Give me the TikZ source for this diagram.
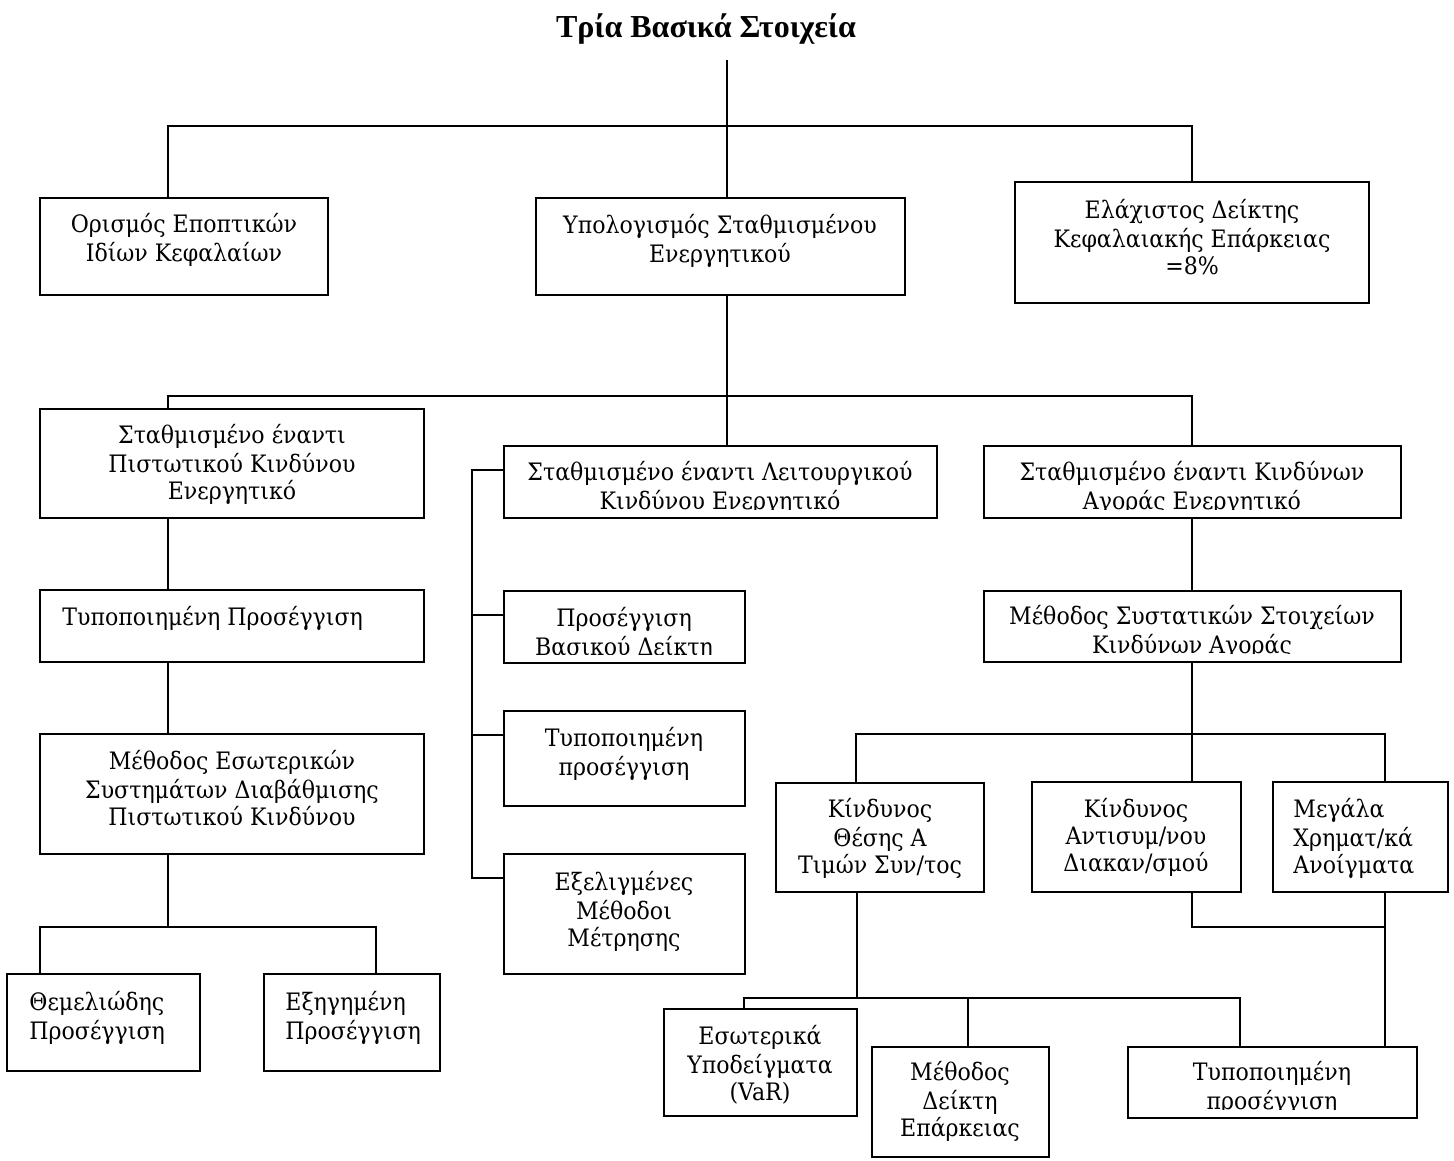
\documentclass[tikz,border=0pt]{standalone}
\usepackage{fontspec}
\setmainfont{Liberation Serif}
\newfontfamily\gkfont[FakeStretch=0.92]{DejaVu Serif}
\usetikzlibrary{fit}
\tikzset{
  bx/.style={draw, line width=1pt, inner sep=0pt},
  tx/.style={align=center, inner sep=0pt, font=\gkfont\fontsize{12}{13.5}\selectfont},
  txl/.style={tx, align=left},
  ln/.style={line width=1pt},
}

\begin{document}
\begin{tikzpicture}[x=0.5pt, y=-0.5pt]
\useasboundingbox (0,0) rectangle (1454,1160);
% title
\node[font=\fontsize{16}{18}\selectfont\bfseries, anchor=base] (title) at (706,38) {Τρία Βασικά Στοιχεία};

% first level
\node[bx, fit={(40,198) (328,295)}] (orismos) {};
\node[bx, fit={(536,198) (905,295)}] (ypol) {};
\node[bx, fit={(1015,182) (1369,303)}] (elax) {};
\node[tx, anchor=north] (orismos-t) at (184,213) {\strut Ορισμός Εποπτικών\\Ιδίων Κεφαλαίων};
\node[tx, anchor=north] (ypol-t) at (720,214) {\strut Υπολογισμός Σταθμισμένου\\Ενεργητικού};
\node[tx, anchor=north] (elax-t) at (1192,199) {\strut Ελάχιστος Δείκτης\\Κεφαλαιακής Επάρκειας\\=8\%};

% credit risk column
\node[bx, fit={(40,409) (424,518)}] (pist) {};
\node[bx, fit={(40,590) (424,662)}] (typ) {};
\node[bx, fit={(40,734) (424,854)}] (irb) {};
\node[bx, fit={(7,974) (200,1071)}] (themel) {};
\node[bx, fit={(264,974) (440,1071)}] (exig) {};
\node[tx, anchor=north] (pist-t) at (232,424) {\strut Σταθμισμένο έναντι\\Πιστωτικού Κινδύνου\\Ενεργητικό};
\node[txl, anchor=north west] (typ-t) at (62,606) {\strut Τυποποιημένη Προσέγγιση};
\node[tx, anchor=north] (irb-t) at (232,750) {\strut Μέθοδος Εσωτερικών\\Συστημάτων Διαβάθμισης\\Πιστωτικού Κινδύνου};
\node[txl, anchor=north west] (themel-t) at (29,991) {\strut Θεμελιώδης\\Προσέγγιση};
\node[txl, anchor=north west] (exig-t) at (285,991) {\strut Εξηγημένη\\Προσέγγιση};

% operational risk column
\node[bx, fit={(504,446) (937,518)}] (leit) {};
\node[bx, fit={(504,591) (745,663)}] (basic) {};
\node[bx, fit={(504,711) (745,806)}] (typop) {};
\node[bx, fit={(504,854) (745,974)}] (exel) {};
\begin{scope}
\clip ([yshift=5pt]leit.south west) rectangle (leit.north east);
\node[tx, anchor=north] (leit-t) at (720,461) {\strut Σταθμισμένο έναντι Λειτουργικού\\Κινδύνου Ενεργητικό};
\end{scope}
\begin{scope}
\clip ([yshift=5pt]basic.south west) rectangle (basic.north east);
\node[tx, anchor=north] (basic-t) at (624,607) {\strut Προσέγγιση\\Βασικού Δείκτη};
\end{scope}
\node[tx, anchor=north] (typop-t) at (624,727) {\strut Τυποποιημένη\\προσέγγιση};
\node[tx, anchor=north] (exel-t) at (624,871) {\strut Εξελιγμένες\\Μέθοδοι\\Μέτρησης};

% market risk column
\node[bx, fit={(984,446) (1401,518)}] (agor) {};
\node[bx, fit={(984,591) (1401,662)}] (syst) {};
\node[bx, fit={(776,783) (984,892)}] (thesis) {};
\node[bx, fit={(1032,782) (1241,892)}] (antis) {};
\node[bx, fit={(1273,782) (1448,892)}] (megala) {};
\node[bx, fit={(664,1009) (857,1116)}] (var) {};
\node[bx, fit={(872,1047) (1049,1157)}] (deikt) {};
\node[bx, fit={(1128,1047) (1417,1118)}] (typ2) {};
\begin{scope}
\clip ([yshift=5pt]agor.south west) rectangle (agor.north east);
\node[tx, anchor=north] (agor-t) at (1192,461) {\strut Σταθμισμένο έναντι Κινδύνων\\Αγοράς Ενεργητικό};
\end{scope}
\begin{scope}
\clip ([yshift=5pt]syst.south west) rectangle (syst.north east);
\node[tx, anchor=north] (syst-t) at (1192,605) {\strut Μέθοδος Συστατικών Στοιχείων\\Κινδύνων Αγοράς};
\end{scope}
\node[tx, anchor=north] (thesis-t) at (880,798) {\strut Κίνδυνος\\Θέσης Α\\Τιμών Συν/τος};
\node[tx, anchor=north] (antis-t) at (1136,798) {\strut Κίνδυνος\\Αντισυμ/νου\\Διακαν/σμού};
\node[txl, anchor=north west] (megala-t) at (1293,798) {\strut Μεγάλα\\Χρηματ/κά\\Ανοίγματα};
\node[tx, anchor=north] (var-t) at (760,1025) {\strut Εσωτερικά\\Υποδείγματα\\(VaR)};
\node[tx, anchor=north] (deikt-t) at (960,1061) {\strut Μέθοδος\\Δείκτη\\Επάρκειας};
\begin{scope}
\clip ([yshift=5pt]typ2.south west) rectangle (typ2.north east);
\node[tx, anchor=north] (typ2-t) at (1272,1061) {\strut Τυποποιημένη\\προσέγγιση};
\end{scope}

% junctions
\coordinate (j0) at (727,126);
\coordinate (top-l) at (168,126);
\coordinate (top-r) at (1192,126);
\coordinate (mid-l) at (168,396);
\coordinate (mid-c) at (727,396);
\coordinate (mid-r) at (1192,396);
\coordinate (low-l) at (168,927);
\coordinate (low-a) at (40,927);
\coordinate (low-b) at (376,927);
\coordinate (op1) at (472,470);
\coordinate (op2) at (472,615);
\coordinate (op3) at (472,735);
\coordinate (op4) at (472,878);
\coordinate (mk) at (1192,734);
\coordinate (mk-l) at (856,734);
\coordinate (mk-r) at (1385,734);
\coordinate (pq) at (1385,927);
\coordinate (bt) at (857,998);
\coordinate (bt-a) at (744,998);
\coordinate (bt-s) at (968,998);
\coordinate (bt-b) at (1240,998);

% connectors
\draw[ln, shorten <=4pt] (j0 |- title.south) -- (j0 |- ypol.north);
\draw[ln] (top-l |- orismos.north) -- (top-l) -- (top-r) -- (top-r |- elax.north);
\draw[ln] (mid-c |- ypol.south) -- (mid-c |- leit.north);
\draw[ln] (mid-l |- pist.north) -- (mid-l) -- (mid-r) -- (mid-r |- agor.north);
\draw[ln] (mid-l |- pist.south) -- (mid-l |- typ.north);
\draw[ln] (mid-l |- typ.south) -- (mid-l |- irb.north);
\draw[ln] (low-l |- irb.south) -- (low-l);
\draw[ln] (low-a |- themel.north) -- (low-a) -- (low-b) -- (low-b |- exig.north);
\draw[ln] (leit.west |- op1) -- (op1) -- (op4) -- (exel.west |- op4);
\draw[ln] (op2) -- (basic.west |- op2);
\draw[ln] (op3) -- (typop.west |- op3);
\draw[ln] (mk |- agor.south) -- (mk |- syst.north);
\draw[ln] (mk |- syst.south) -- (mk |- antis.north);
\draw[ln] (mk-l |- thesis.north) -- (mk-l) -- (mk-r) -- (mk-r |- megala.north);
\draw[ln] (bt |- thesis.south) -- (bt);
\draw[ln] (bt-a |- var.north) -- (bt-a) -- (bt-b) -- (bt-b |- typ2.north);
\draw[ln] (bt-s) -- (bt-s |- deikt.north);
\draw[ln] (mk |- antis.south) -- (mk |- pq) -- (pq);
\draw[ln] (pq |- megala.south) -- (pq |- typ2.north);
\end{tikzpicture}
\end{document}
